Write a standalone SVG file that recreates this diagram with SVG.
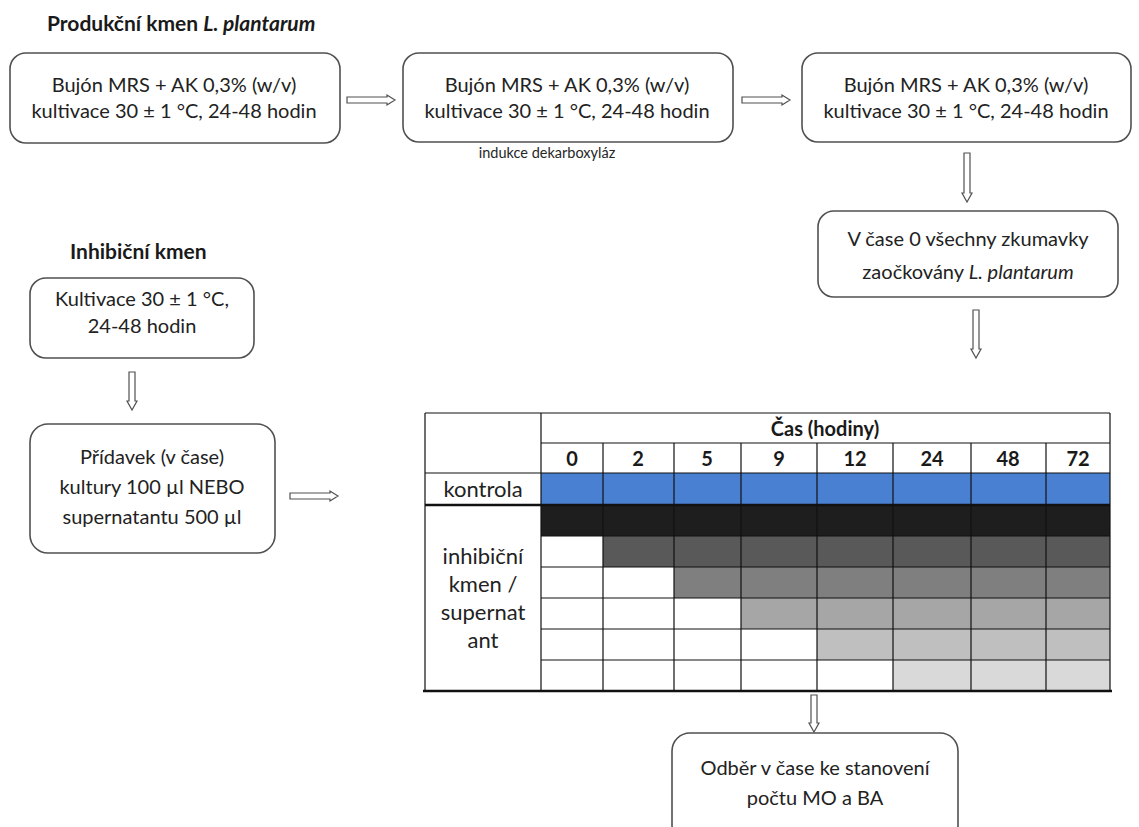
<svg xmlns="http://www.w3.org/2000/svg" width="1139" height="827" viewBox="0 0 1139 827">
<style>
.box{fill:#fff;stroke:#505050;stroke-width:1.6}
.t{font-family:Lato,"Open Sans","Liberation Sans",sans-serif;font-size:20px;fill:#222;text-anchor:middle}
.tl{font-family:Lato,"Open Sans","Liberation Sans",sans-serif;font-size:22px;fill:#222;text-anchor:middle}
.h{font-family:Lato,"Open Sans","Liberation Sans",sans-serif;font-size:21px;font-weight:bold;fill:#1a1a1a}
.s{font-family:Lato,"Open Sans","Liberation Sans",sans-serif;font-size:14.5px;fill:#262626;text-anchor:middle}
.tb{font-family:Lato,"Open Sans","Liberation Sans",sans-serif;font-size:20px;font-weight:bold;fill:#1a1a1a;text-anchor:middle}
.arr{fill:#fff;stroke:#505050;stroke-width:1.2;stroke-linejoin:miter}
.g{stroke:#111;stroke-width:1.2;fill:none}
.gt{stroke:#111;stroke-width:2.4;fill:none}
</style>
<rect width="1139" height="827" fill="#fff"/>
<text class="h" x="47" y="31">Produkční kmen <tspan font-style="italic">L. plantarum</tspan></text>
<text class="h" x="70" y="259">Inhibiční kmen</text>

<g id="box1">
<rect class="box" x="10" y="53" width="330" height="90" rx="16"/>
<text class="t" x="174" y="92">Bujón MRS + AK 0,3% (w/v)</text>
<text class="t" x="174" y="118">kultivace 30 ± 1 °C, 24-48 hodin</text>
</g>
<g id="box2">
<rect class="box" x="403" y="53" width="330" height="89" rx="16"/>
<text class="t" x="567" y="92">Bujón MRS + AK 0,3% (w/v)</text>
<text class="t" x="567" y="118">kultivace 30 ± 1 °C, 24-48 hodin</text>
<text class="s" x="547" y="158">indukce dekarboxyláz</text>
</g>
<g id="box3">
<rect class="box" x="802" y="53" width="329" height="89" rx="16"/>
<text class="t" x="966" y="92">Bujón MRS + AK 0,3% (w/v)</text>
<text class="t" x="966" y="118">kultivace 30 ± 1 °C, 24-48 hodin</text>
</g>
<g id="box4">
<rect class="box" x="818" y="211" width="300" height="86" rx="16"/>
<text class="t" x="968" y="246">V čase 0 všechny zkumavky</text>
<text class="t" x="968" y="279">zaočkovány <tspan font-style="italic">L. plantarum</tspan></text>
</g>
<g id="box5">
<rect class="box" x="30" y="278" width="224" height="80" rx="16"/>
<text class="t" x="142" y="306">Kultivace 30 ± 1 °C,</text>
<text class="t" x="142" y="333">24-48 hodin</text>
</g>
<g id="box6">
<rect class="box" x="30" y="424" width="245" height="129" rx="18"/>
<text class="t" x="152" y="464">Přídavek (v čase)</text>
<text class="t" x="152" y="494">kultury 100 µl NEBO</text>
<text class="t" x="152" y="524">supernatantu 500 µl</text>
</g>
<g id="box7">
<rect class="box" x="672" y="733" width="286" height="110" rx="18"/>
<text class="t" x="815" y="775">Odběr v čase ke stanovení</text>
<text class="t" x="815" y="805">počtu MO a BA</text>
</g>

<g id="table">
<rect x="541" y="473" width="569" height="32" fill="#4a80d2"/>
<rect x="541" y="505" width="569" height="31" fill="#1e1e1e"/>
<rect x="603" y="536" width="507" height="31" fill="#595959"/>
<rect x="674" y="567" width="436" height="31" fill="#7f7f7f"/>
<rect x="741" y="598" width="369" height="31" fill="#a6a6a6"/>
<rect x="817" y="629" width="293" height="31" fill="#bfbfbf"/>
<rect x="893" y="660" width="217" height="31" fill="#d9d9d9"/>
<path class="g" d="M425 413H1110M541 443H1110M425 473H1110M541 536H1110M541 567H1110M541 598H1110M541 629H1110M541 660H1110"/>
<path class="g" d="M425 413V691M541 413V691M603 443V691M674 443V691M741 443V691M817 443V691M893 443V691M971 443V691M1046 443V691M1110 413V691"/>
<path class="gt" d="M425 505H1110M423 691H1112"/>
<text class="tb" x="825" y="436">Čas (hodiny)</text>
<text class="tb" x="572" y="466">0</text>
<text class="tb" x="638" y="466">2</text>
<text class="tb" x="707" y="466">5</text>
<text class="tb" x="779" y="466">9</text>
<text class="tb" x="855" y="466">12</text>
<text class="tb" x="932" y="466">24</text>
<text class="tb" x="1008" y="466">48</text>
<text class="tb" x="1078" y="466">72</text>
<text class="tl" x="483" y="497">kontrola</text>
<text class="tl" x="483" y="564">inhibiční</text>
<text class="tl" x="483" y="592">kmen /</text>
<text class="tl" x="483" y="620">supernat</text>
<text class="tl" x="483" y="648">ant</text>
</g>

<g id="connectors">
<path class="arr" d="M347 97H387V95L395 100L387 105V103H347Z"/>
<path class="arr" d="M742 97H782V95L790 100L782 105V103H742Z"/>
<path class="arr" d="M290 493H330V491L338 496L330 501V499H290Z"/>
<path class="arr" d="M964 153V193H962L967 202L972 193H970V153Z"/>
<path class="arr" d="M973 310V349H971L976 358L981 349H979V310Z"/>
<path class="arr" d="M129 372V401H127L132 410L137 401H135V372Z"/>
<path class="arr" d="M811 695V723H809L814 732L819 723H817V695Z"/>
</g>
</svg>
